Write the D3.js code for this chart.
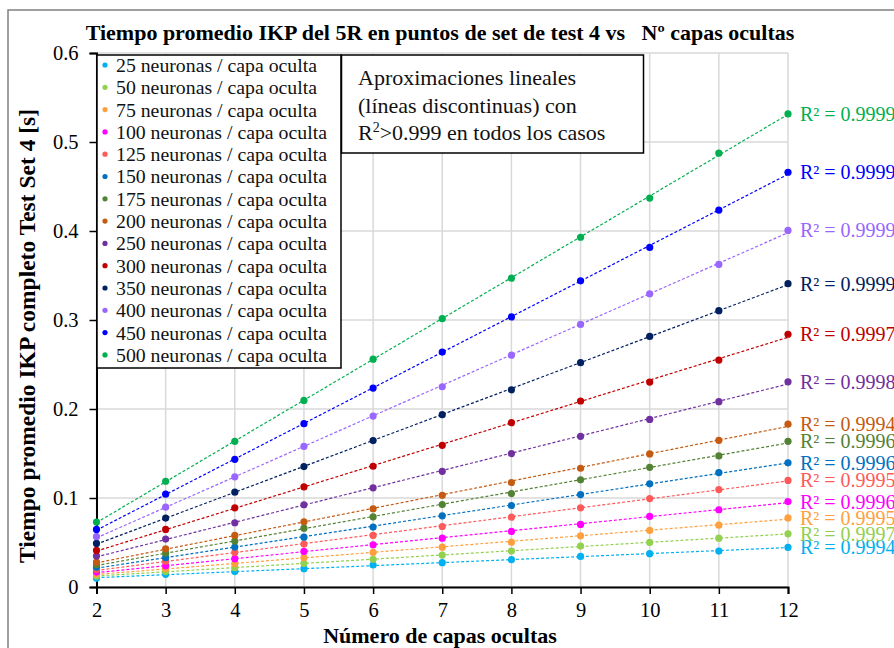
<!DOCTYPE html>
<html>
<head>
<meta charset="utf-8">
<script src="https://cdn.jsdelivr.net/npm/d3@7"></script>
<style>
  html, body { margin: 0; padding: 0; background: #fff; }
  svg { display: block; font-family: "Liberation Serif", "Times New Roman", serif; }
</style>
</head>
<body>
<svg id="chart" width="894" height="648"></svg>
<script>
// Number of hidden layers (x axis)
const layers = [2, 3, 4, 5, 6, 7, 8, 9, 10, 11, 12];
// Neurons per hidden layer, one series each
const neurons = [25, 50, 75, 100, 125, 150, 175, 200, 250, 300, 350, 400, 450, 500];
const seriesColors = ["#00b0f0", "#92d050", "#ffa040", "#ff00ff", "#ff5a5a", "#0070c0", "#548235",
                      "#c55a11", "#7030a0", "#c00000", "#002060", "#9966ff", "#0000ff", "#00b050"];
// Mean IKP time [s] per series, for 2..12 hidden layers
const s25  = [0.0098, 0.0142, 0.0173, 0.0206, 0.0247, 0.0273, 0.0307, 0.0344, 0.0374, 0.0404, 0.0445];
const s50  = [0.0123, 0.0173, 0.0217, 0.0266, 0.0311, 0.0359, 0.0404, 0.0460, 0.0501, 0.0549, 0.0597];
const s75  = [0.0146, 0.0206, 0.0262, 0.0330, 0.0389, 0.0448, 0.0504, 0.0576, 0.0636, 0.0695, 0.0776];
const s100 = [0.0168, 0.0240, 0.0318, 0.0400, 0.0475, 0.0549, 0.0624, 0.0703, 0.0793, 0.0868, 0.0960];
const s125 = [0.0198, 0.0288, 0.0389, 0.0482, 0.0580, 0.0680, 0.0785, 0.0890, 0.0994, 0.1095, 0.1198];
const s150 = [0.0224, 0.0330, 0.0449, 0.0560, 0.0673, 0.0800, 0.0916, 0.1039, 0.1159, 0.1286, 0.1395];
const s175 = [0.0250, 0.0380, 0.0516, 0.0661, 0.0789, 0.0927, 0.1050, 0.1204, 0.1345, 0.1473, 0.1637];
const s200 = [0.0280, 0.0430, 0.0580, 0.0733, 0.0879, 0.1031, 0.1174, 0.1334, 0.1495, 0.1648, 0.1830];
const s250 = [0.0348, 0.0538, 0.0722, 0.0924, 0.1114, 0.1300, 0.1499, 0.1693, 0.1883, 0.2082, 0.2305];
const s300 = [0.0411, 0.0647, 0.0890, 0.1125, 0.1357, 0.1592, 0.1846, 0.2090, 0.2303, 0.2550, 0.2840];
const s350 = [0.0490, 0.0774, 0.1065, 0.1353, 0.1645, 0.1936, 0.2216, 0.2520, 0.2815, 0.3105, 0.3408];
const s400 = [0.0565, 0.0897, 0.1238, 0.1580, 0.1921, 0.2250, 0.2605, 0.2950, 0.3295, 0.3625, 0.4007];
const s450 = [0.0647, 0.1043, 0.1435, 0.1835, 0.2235, 0.2640, 0.3035, 0.3440, 0.3815, 0.4235, 0.4660];
const s500 = [0.0729, 0.1188, 0.1637, 0.2096, 0.2560, 0.3015, 0.3470, 0.3930, 0.4370, 0.4875, 0.5315];
const seriesValues = [s25, s50, s75, s100, s125, s150, s175, s200, s250, s300, s350, s400, s450, s500];
// Coefficient of determination of each linear trendline
const r2Values = ["0.9994", "0.9997", "0.9995", "0.9996", "0.9995", "0.9996", "0.9996",
                  "0.9994", "0.9998", "0.9997", "0.9999", "0.9999", "0.9999", "0.9999"];
const yTicks = [0, 0.1, 0.2, 0.3, 0.4, 0.5, 0.6];

const svg = d3.select("#chart");

const x = d3.scaleLinear().domain([2, 12]).range([96.5, 788]);
const y = d3.scaleLinear().domain([0, 0.6]).range([587, 53]);

// Outer chart frame (runs past the right and bottom edges)
svg.append("rect").attr("x", 8).attr("y", 10).attr("width", 950).attr("height", 700)
  .attr("fill", "#fff").attr("stroke", "#808080").attr("stroke-width", 1.5);

// Title
svg.append("text").attr("x", 440).attr("y", 40).attr("text-anchor", "middle")
  .attr("font-weight", "bold").attr("font-size", 22).attr("fill", "#000")
  .text("Tiempo promedio IKP del 5R en puntos de set de test 4 vs\u00a0\u00a0 Nº capas ocultas");

// Gridlines
const grid = svg.append("g").attr("stroke", "#d9d9d9").attr("stroke-width", 1.5);
grid.selectAll("line.v").data(layers).join("line")
  .attr("x1", d => x(d)).attr("x2", d => x(d)).attr("y1", y(0.6)).attr("y2", y(0));
grid.selectAll("line.h").data(yTicks).join("line")
  .attr("x1", x(2)).attr("x2", x(12)).attr("y1", d => y(d)).attr("y2", d => y(d));

// Axes
const xAxis = svg.append("g").attr("transform", `translate(0,${y(0)})`)
  .call(d3.axisBottom(x).tickValues(layers).tickFormat(d3.format("d")).tickSizeOuter(0).tickSize(7));
const yAxis = svg.append("g").attr("transform", `translate(${x(2)},0)`)
  .call(d3.axisLeft(y).tickValues(yTicks).tickFormat(d => d === 0 ? "0" : d3.format(".1f")(d)).tickSizeOuter(0).tickSize(7));
[xAxis, yAxis].forEach(a => {
  a.select(".domain").attr("stroke", "#000").attr("stroke-width", 2);
  a.selectAll(".tick line").attr("stroke", "#000").attr("stroke-width", 1.5);
  a.selectAll("text").attr("font-family", "Liberation Serif, serif").attr("font-size", 20.5).attr("fill", "#000");
});
xAxis.selectAll("text").attr("dy", "0").attr("y", 30);
yAxis.selectAll("text").attr("x", -18).attr("dy", "0.34em");

// Axis titles
svg.append("text").attr("x", 440).attr("y", 643).attr("text-anchor", "middle")
  .attr("font-weight", "bold").attr("font-size", 22).attr("fill", "#000")
  .text("Número de capas ocultas");
svg.append("text").attr("transform", "translate(35,336) rotate(-90)").attr("text-anchor", "middle")
  .attr("font-weight", "bold").attr("font-size", 23.5).attr("fill", "#000")
  .text("Tiempo promedio IKP completo Test Set 4 [s]");

// Least-squares trendline for one series
function fit(vals) {
  const mx = d3.mean(layers), my = d3.mean(vals);
  let sxy = 0, sxx = 0;
  layers.forEach((l, i) => { sxy += (l - mx) * (vals[i] - my); sxx += (l - mx) * (l - mx); });
  const b = sxy / sxx;
  return [b, my - b * mx];
}

const plot = svg.append("g");
seriesValues.forEach((vals, si) => {
  const [b, a] = fit(vals);
  plot.append("line")
    .attr("x1", x(2)).attr("y1", y(a + b * 2)).attr("x2", x(12)).attr("y2", y(a + b * 12))
    .attr("stroke", seriesColors[si]).attr("stroke-width", 1.2).attr("stroke-dasharray", "3,2");
});
seriesValues.forEach((vals, si) => {
  plot.append("g").selectAll("circle").data(vals).join("circle")
    .attr("cx", (d, i) => x(layers[i])).attr("cy", d => y(d)).attr("r", 3.6)
    .attr("fill", seriesColors[si]);
});

// R² labels next to the last point of each series
seriesValues.forEach((vals, si) => {
  svg.append("text").attr("x", 800).attr("y", y(vals[vals.length - 1])).attr("dy", "0.35em")
    .attr("font-size", 20).attr("fill", seriesColors[si])
    .text("R² = " + r2Values[si]);
});

// Legend
const lg = { x: 97, y: 55, w: 244, h: 313 };
svg.append("clipPath").attr("id", "legclip").append("rect")
  .attr("x", lg.x).attr("y", lg.y).attr("width", lg.w).attr("height", lg.h);
svg.append("rect").attr("x", lg.x).attr("y", lg.y).attr("width", lg.w).attr("height", lg.h)
  .attr("fill", "#fff");
const legend = svg.append("g").attr("clip-path", "url(#legclip)");
neurons.forEach((n, i) => {
  const cy = 65 + i * 22.3;
  legend.append("circle").attr("cx", 105).attr("cy", cy).attr("r", 2.6).attr("fill", seriesColors[i]);
  legend.append("text").attr("x", 116).attr("y", cy).attr("dy", "0.35em")
    .attr("font-size", 19.8).attr("fill", "#111").text(n + " neuronas / capa oculta");
});
svg.append("rect").attr("x", lg.x).attr("y", lg.y).attr("width", lg.w).attr("height", lg.h)
  .attr("fill", "none").attr("stroke", "#000").attr("stroke-width", 1.5);

// Note box
svg.append("rect").attr("x", 341.5).attr("y", 55).attr("width", 302).attr("height", 98)
  .attr("fill", "#fff").attr("stroke", "#000").attr("stroke-width", 1.5);
const note = svg.append("text").attr("font-size", 22).attr("fill", "#111");
note.append("tspan").attr("x", 358).attr("y", 85).text("Aproximaciones lineales");
note.append("tspan").attr("x", 358).attr("y", 112.5).text("(líneas discontinuas) con");
const l3 = note.append("tspan").attr("x", 358).attr("y", 140);
l3.append("tspan").text("R");
l3.append("tspan").attr("font-size", 14).attr("dy", -8).text("2");
l3.append("tspan").attr("dy", 8).text(">0.999 en todos los casos");
</script>
</body>
</html>
